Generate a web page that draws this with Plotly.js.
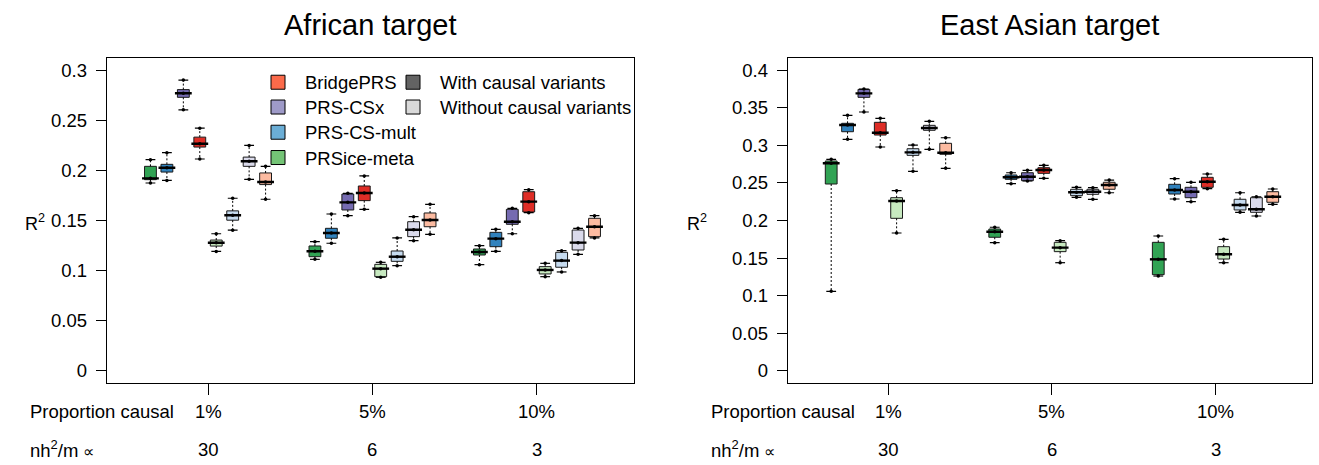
<!DOCTYPE html>
<html>
<head>
<meta charset="utf-8">
<script src="https://cdn.plot.ly/plotly-3.0.1.min.js"></script>
<style>
  html, body { margin: 0; padding: 0; background: #ffffff; }
  #chart { width: 1319px; height: 465px; }
</style>
</head>
<body>
<div id="chart"></div>
<script>
// Scenario labels under each group of boxes
const GROUP_LABELS = ['1%', '5%', '10%'];
const RATIO_LABELS = ['30', '6', '3'];
const PANEL_TITLES = ['African target', 'East Asian target'];

// Methods, in the order boxes appear inside a group (with causal variants first, then without)
const METHODS = ['PRSice-meta', 'PRS-CS-mult', 'PRS-CSx', 'BridgePRS'];
const LEGEND_METHODS = ['BridgePRS', 'PRS-CSx', 'PRS-CS-mult', 'PRSice-meta'];

// Box statistics, 8 boxes per group, groups 1% / 5% / 10%
// African target
const AFR_LO = [0.1874, 0.1900, 0.2603, 0.2113, 0.1192, 0.1404, 0.1910, 0.1712,
                0.1113, 0.1273, 0.1548, 0.1611, 0.0934, 0.1050, 0.1299, 0.1362,
                0.1060, 0.1193, 0.1368, 0.1578, 0.0940, 0.0987, 0.1163, 0.1326];
const AFR_Q1 = [0.1907, 0.1983, 0.2728, 0.2232, 0.1245, 0.1503, 0.2040, 0.1858,
                0.1139, 0.1323, 0.1605, 0.1698, 0.0940, 0.1093, 0.1339, 0.1438,
                0.1156, 0.1239, 0.1462, 0.1585, 0.0967, 0.1034, 0.1206, 0.1339];
const AFR_MED = [0.1920, 0.2026, 0.2768, 0.2265, 0.1278, 0.1553, 0.2090, 0.1884,
                 0.1193, 0.1375, 0.1681, 0.1774, 0.1020, 0.1139, 0.1408, 0.1505,
                 0.1186, 0.1319, 0.1488, 0.1688, 0.1007, 0.1100, 0.1279, 0.1438];
const AFR_Q3 = [0.2040, 0.2060, 0.2805, 0.2331, 0.1305, 0.1596, 0.2132, 0.1974,
                0.1246, 0.1422, 0.1764, 0.1844, 0.1063, 0.1196, 0.1488, 0.1575,
                0.1216, 0.1382, 0.1611, 0.1787, 0.1040, 0.1183, 0.1405, 0.1522];
const AFR_HI = [0.2106, 0.2176, 0.2900, 0.2420, 0.1368, 0.1722, 0.2248, 0.2040,
                0.1289, 0.1565, 0.1771, 0.1944, 0.1083, 0.1326, 0.1538, 0.1661,
                0.1249, 0.1412, 0.1621, 0.1807, 0.1073, 0.1199, 0.1422, 0.1548];

// East Asian target
const EAS_LO = [0.1059, 0.3079, 0.3442, 0.2977, 0.1834, 0.2654, 0.2946, 0.2694,
                0.1705, 0.2489, 0.2525, 0.2561, 0.1439, 0.2308, 0.2282, 0.2369,
                0.1262, 0.2286, 0.2250, 0.2423, 0.1439, 0.2109, 0.2060, 0.2215];
const EAS_Q1 = [0.2485, 0.3180, 0.3637, 0.3136, 0.2029, 0.2866, 0.3199, 0.2880,
                0.1777, 0.2547, 0.2529, 0.2627, 0.1586, 0.2330, 0.2348, 0.2415,
                0.1280, 0.2352, 0.2303, 0.2441, 0.1488, 0.2140, 0.2109, 0.2242];
const EAS_MED = [0.2760, 0.3269, 0.3690, 0.3167, 0.2259, 0.2906, 0.3229, 0.2901,
                 0.1851, 0.2574, 0.2582, 0.2671, 0.1639, 0.2375, 0.2383, 0.2472,
                 0.1484, 0.2405, 0.2383, 0.2516, 0.1551, 0.2206, 0.2149, 0.2316];
const EAS_Q3 = [0.2791, 0.3292, 0.3743, 0.3305, 0.2303, 0.2954, 0.3265, 0.3026,
                0.1887, 0.2605, 0.2635, 0.2702, 0.1710, 0.2415, 0.2415, 0.2508,
                0.1710, 0.2481, 0.2441, 0.2574, 0.1652, 0.2282, 0.2303, 0.2383];
const EAS_HI = [0.2813, 0.3398, 0.3747, 0.3358, 0.2396, 0.3003, 0.3318, 0.3100,
                0.1910, 0.2635, 0.2667, 0.2733, 0.1732, 0.2441, 0.2436, 0.2538,
                0.1794, 0.2556, 0.2508, 0.2618, 0.1750, 0.2369, 0.2316, 0.2419];

// Colours: dark shade = with causal variants, light shade = without
const DARK = ['#31a354', '#3182bd', '#756bb1', '#de2d26'];
const LIGHT = ['#c7e9c0', '#c6dbef', '#dadaeb', '#fcbba1'];
const KEY = {'BridgePRS': '#fb6a4a', 'PRS-CSx': '#9e9ac8', 'PRS-CS-mult': '#6baed6', 'PRSice-meta': '#74c476'};
const CAUSAL_KEY = [['With causal variants', '#636363'], ['Without causal variants', '#d9d9d9']];

const FONT = 'Liberation Sans, Arial, Helvetica, sans-serif';
const BOX_W = 0.72;

// x position of every box: groups spaced 10 units apart, boxes 1 unit apart
const POS = [];
for (let g = 0; g < 3; g++) for (let i = 0; i < 8; i++) POS.push(g * 10 + 1 + i);
const CENTERS = [4.5, 14.5, 24.5];

const panels = [
  {xa: 'x', ya: 'y', lo: AFR_LO, q1: AFR_Q1, med: AFR_MED, q3: AFR_Q3, hi: AFR_HI},
  {xa: 'x2', ya: 'y2', lo: EAS_LO, q1: EAS_Q1, med: EAS_MED, q3: EAS_Q3, hi: EAS_HI}
];

const traces = [];
panels.forEach(p => {
  // dashed whiskers from box edge to the extremes
  const wx = [], wy = [];
  POS.forEach((x, k) => {
    wx.push(x, x, null, x, x, null);
    wy.push(p.q3[k], p.hi[k], null, p.q1[k], p.lo[k], null);
  });
  traces.push({type: 'scatter', mode: 'lines', x: wx, y: wy, xaxis: p.xa, yaxis: p.ya,
    line: {color: '#000', width: 1, dash: '2px,2px'}, showlegend: false, hoverinfo: 'skip'});

  // boxes, one trace per colour
  for (let i = 0; i < 8; i++) {
    const idx = [0, 1, 2].map(g => g * 8 + i);
    const pick = arr => idx.map(k => arr[k]);
    traces.push({
      type: 'box', xaxis: p.xa, yaxis: p.ya,
      x: pick(POS), q1: pick(p.q1), median: pick(p.med), q3: pick(p.q3),
      lowerfence: pick(p.q1), upperfence: pick(p.q3),
      width: BOX_W, boxpoints: false, whiskerwidth: 0,
      fillcolor: i < 4 ? DARK[i] : LIGHT[i - 4],
      line: {color: '#1a1a1a', width: 1},
      showlegend: false, hoverinfo: 'skip'
    });
  }

  // thick median bars
  traces.push({type: 'scatter', mode: 'markers', x: POS, y: p.med, xaxis: p.xa, yaxis: p.ya,
    marker: {symbol: 'line-ew', size: 12, line: {color: '#000', width: 2.4}},
    showlegend: false, hoverinfo: 'skip'});

  // whisker staples
  traces.push({type: 'scatter', mode: 'markers', x: POS.concat(POS), y: p.lo.concat(p.hi),
    xaxis: p.xa, yaxis: p.ya,
    marker: {symbol: 'line-ew', size: 7, line: {color: '#000', width: 1.2}},
    showlegend: false, hoverinfo: 'skip'});

  // observed points at the extremes and the median
  traces.push({type: 'scatter', mode: 'markers', x: POS.concat(POS, POS), y: p.lo.concat(p.hi, p.med),
    xaxis: p.xa, yaxis: p.ya,
    marker: {symbol: 'circle', size: 3.5, color: '#000'},
    showlegend: false, hoverinfo: 'skip'});
});

const W = 1319, H = 465;
const px = v => v / W, py = v => (H - v) / H;

// key: one single-entry legend per row so rows sit at fixed heights
const legendCommon = {
  xanchor: 'left', yanchor: 'middle', bgcolor: 'rgba(0,0,0,0)', borderwidth: 0, itemwidth: 44,
  font: {family: FONT, size: 18.5, color: '#000'}, tracegroupgap: 0, itemclick: false, itemdoubleclick: false
};
const KEY_ROWS = [82.7, 107.5, 132.7, 158];
const legendLayout = {};
const keyEntries = LEGEND_METHODS.map((m, r) => ({name: m, color: KEY[m], left: 251, row: KEY_ROWS[r]}))
  .concat(CAUSAL_KEY.map(([name, col], r) => ({name: name, color: col, left: 386, row: KEY_ROWS[r]})));
keyEntries.forEach((e, n) => {
  const id = n === 0 ? 'legend' : 'legend' + (n + 1);
  traces.push({
    type: 'scatter', mode: 'markers', x: [null], y: [null], name: e.name, legend: id,
    marker: {symbol: 'square', size: 14, color: e.color, line: {color: '#000', width: 1}}
  });
  legendLayout[id] = Object.assign({}, legendCommon, {x: px(e.left), y: py(e.row)});
});

const xCommon = {
  range: [-1.66, 30.4], showgrid: false, zeroline: false, showline: true, mirror: true,
  linecolor: '#000', linewidth: 1, ticks: 'outside', ticklen: 11, tickwidth: 1, tickcolor: '#000',
  tickvals: CENTERS, showticklabels: false, fixedrange: true
};
const yCommon = {
  showgrid: false, zeroline: false, showline: true, mirror: true,
  linecolor: '#000', linewidth: 1, ticks: 'outside', ticklen: 10, tickwidth: 1, tickcolor: '#000',
  tick0: 0, dtick: 0.05, ticklabelstandoff: 5, tickfont: {family: FONT, size: 18.5, color: '#000'}, fixedrange: true,
  domain: [py(383), py(58)]
};

const annotations = [];
const panelX = [[106.7, 634], [787.7, 1312]];
PANEL_TITLES.forEach((t, j) => {
  annotations.push({text: t, xref: 'paper', yref: 'paper', x: px((panelX[j][0] + panelX[j][1]) / 2), y: py(25),
    xanchor: 'center', yanchor: 'middle', showarrow: false, font: {family: FONT, size: 29, color: '#000'}});
  const xr = j === 0 ? 'x' : 'x2';
  CENTERS.forEach((c, g) => {
    annotations.push({text: GROUP_LABELS[g], xref: xr, yref: 'paper', x: c, y: py(411),
      xanchor: 'center', yanchor: 'middle', showarrow: false, font: {family: FONT, size: 18.5, color: '#000'}});
    annotations.push({text: RATIO_LABELS[g], xref: xr, yref: 'paper', x: c, y: py(449),
      xanchor: 'center', yanchor: 'middle', showarrow: false, font: {family: FONT, size: 18.5, color: '#000'}});
  });
  const left = j === 0 ? 28 : 709;
  annotations.push({text: 'Proportion causal', xref: 'paper', yref: 'paper', x: px(left), y: py(411),
    xanchor: 'left', yanchor: 'middle', showarrow: false, font: {family: FONT, size: 18.5, color: '#000'}});
  annotations.push({text: 'nh<sup>2</sup>/m <span style="font-size:16px">\u221D</span>', xref: 'paper', yref: 'paper',
    x: px(left), y: py(449),
    xanchor: 'left', yanchor: 'middle', showarrow: false, font: {family: FONT, size: 18.5, color: '#000'}});
  annotations.push({text: 'R<sup>2</sup>', xref: 'paper', yref: 'paper', x: px(j === 0 ? 35 : 697), y: py(222),
    xanchor: 'center', yanchor: 'middle', showarrow: false, font: {family: FONT, size: 18, color: '#000'}});
});

const layout = Object.assign({
  width: W, height: H, margin: {l: 0, r: 0, t: 0, b: 0},
  paper_bgcolor: '#fff', plot_bgcolor: '#fff',
  font: {family: FONT, color: '#000'},
  boxmode: 'overlay',
  xaxis: Object.assign({}, xCommon, {domain: [px(106.7), px(634)], anchor: 'y'}),
  xaxis2: Object.assign({}, xCommon, {domain: [px(787.7), px(1312)], anchor: 'y2'}),
  yaxis: Object.assign({}, yCommon, {range: [-0.012, 0.312], anchor: 'x'}),
  yaxis2: Object.assign({}, yCommon, {range: [-0.016, 0.416], anchor: 'x2'}),
  annotations: annotations,
  showlegend: true
}, legendLayout);

Plotly.newPlot('chart', traces, layout, {displayModeBar: false, staticPlot: true});
</script>
</body>
</html>
